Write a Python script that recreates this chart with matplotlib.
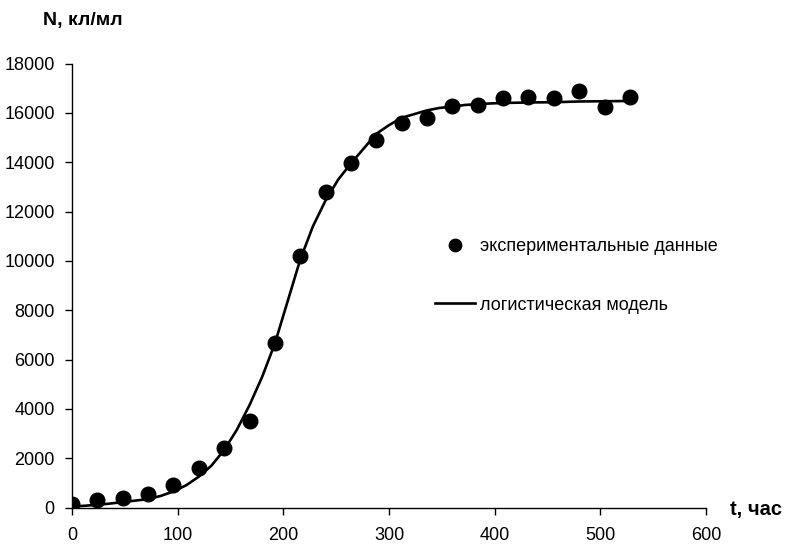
import matplotlib
matplotlib.use("Agg")
import matplotlib.pyplot as plt

# experimental data
t_exp = [0, 24, 48, 72, 96, 120, 144, 168, 192, 216, 240, 264, 288, 312, 336,
         360, 384, 408, 432, 456, 480, 504, 528]
n_exp = [150, 300, 400, 550, 900, 1600, 2400, 3500, 6650, 10200, 12800, 13950,
         14900, 15600, 15780, 16280, 16320, 16600, 16650, 16600, 16900, 16250, 16650]

# logistic model
t_mod = [0, 12, 24, 36, 48, 60, 72, 84, 96, 108, 120, 132, 144, 156, 168, 180,
         192, 204, 216, 228, 240, 252, 264, 276, 288, 300, 312, 324, 336, 348,
         360, 372, 384, 396, 408, 432, 456, 480, 504, 528]
n_mod = [40, 70, 110, 160, 220, 280, 340, 470, 650, 900, 1250, 1700, 2330, 3150,
         4150, 5300, 6650, 8350, 10050, 11400, 12450, 13300, 13950, 14550, 15150,
         15500, 15800, 15950, 16100, 16200, 16250, 16320, 16350, 16380, 16400,
         16420, 16430, 16460, 16470, 16480]

x_ticks = [0, 100, 200, 300, 400, 500, 600]
y_ticks = [0, 2000, 4000, 6000, 8000, 10000, 12000, 14000, 16000, 18000]

label_exp = "экспериментальные данные"
label_mod = "логистическая модель"

plt.rcParams['font.family'] = ['Liberation Sans', 'DejaVu Sans']

fig = plt.figure(figsize=(7.86, 5.44), dpi=100)
ax = fig.add_axes([72/786, 1-507.5/544, (706-72)/786, (507.5-63.5)/544])

ax.plot(t_mod, n_mod, color='black', lw=1.9, label=label_mod, zorder=2)
ax.plot(t_exp, n_exp, 'o', color='black', ms=10.5, label=label_exp, zorder=3)

ax.set_xlim(0, 600)
ax.set_ylim(0, 18000)
ax.set_xticks(x_ticks)
ax.set_yticks(y_ticks)
ax.tick_params(direction='out', length=5, width=1, labelsize=13, colors='black')
ax.tick_params(axis='x', pad=9)
ax.tick_params(axis='y', pad=7.5)
for s in ['top', 'right']:
    ax.spines[s].set_visible(False)
for s in ['left', 'bottom']:
    ax.spines[s].set_linewidth(1)
ax.set_clip_on(False)

handles, labels = ax.get_legend_handles_labels()
leg = ax.legend(handles[::-1], labels[::-1], frameon=False, fontsize=13,
                loc='upper left', bbox_to_anchor=(0.5473, 0.643),
                handlelength=2.2, labelspacing=2.3, handletextpad=0.28,
                markerscale=0.85)

fig.text(43/786, 1-21/544, "N, кл/мл", fontsize=14, fontweight='bold', va='center', ha='left')
fig.text(730/786, 1-510/544, "t, час", fontsize=14.5, fontweight='bold', va='center', ha='left')

fig.savefig("out.png", dpi=100)
